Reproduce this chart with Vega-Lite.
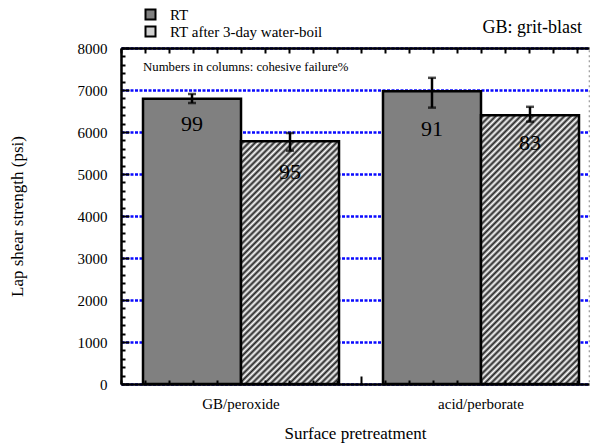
{
  "$schema": "https://vega.github.io/schema/vega-lite/v6.json",
  "width": 468,
  "height": 336,
  "autosize": {"type": "none"},
  "padding": {"left": 121, "top": 48, "right": 6, "bottom": 61},
  "config": {
    "font": "Liberation Serif",
    "mark": {"font": "Liberation Serif"},
    "text": {"font": "Liberation Serif"},
    "legend": {"labelFont": "Liberation Serif", "titleFont": "Liberation Serif"},
    "view": {"stroke": "#9a9a9a", "strokeDash": [2, 3], "strokeWidth": 1.2},
    "axis": {"labelColor": "black", "titleColor": "black", "titleFontWeight": "normal", "labelFont": "Liberation Serif", "titleFont": "Liberation Serif"}
  },
  "data": {
    "values": [
      {"treat": "GB/peroxide", "cond": "RT", "val": 6790, "lo": 6690, "hi": 6905, "cf": "99"},
      {"treat": "GB/peroxide", "cond": "RT after 3-day water-boil", "val": 5780, "lo": 5555, "hi": 5976, "cf": "95"},
      {"treat": "acid/perborate", "cond": "RT", "val": 6970, "lo": 6580, "hi": 7290, "cf": "91"},
      {"treat": "acid/perborate", "cond": "RT after 3-day water-boil", "val": 6400, "lo": 6245, "hi": 6600, "cf": "83"}
    ]
  },
  "layer": [
    {
      "layer": [
        {
          "transform": [{"filter": "datum.cond == 'RT'"}],
          "mark": {"type": "bar", "fill": "#808080", "stroke": "black", "strokeWidth": 2.5},
          "encoding": {
            "x": {"field": "treat", "type": "nominal", "sort": ["GB/peroxide", "acid/perborate"],
              "scale": {"domain": ["GB/peroxide", "acid/perborate"], "paddingInner": 0.1833, "paddingOuter": 0.0667, "align": 0.6875},
              "axis": {"orient": "bottom", "title": "Surface pretreatment", "labelAngle": 0, "labelFontSize": 15, "labelPadding": 12, "ticks": false, "domain": false, "titleFontSize": 17, "titlePadding": 14, "zindex": 1}},
            "xOffset": {"field": "cond", "type": "nominal", "scale": {"domain": ["RT", "RT after 3-day water-boil"], "paddingInner": 0, "paddingOuter": 0}},
            "y": {"field": "val", "type": "quantitative", "scale": {"domain": [0, 8000], "nice": false},
              "axis": {
                "values": [0,200,400,600,800,1000,1200,1400,1600,1800,2000,2200,2400,2600,2800,3000,3200,3400,3600,3800,4000,4200,4400,4600,4800,5000,5200,5400,5600,5800,6000,6200,6400,6600,6800,7000,7200,7400,7600,7800,8000],
                "tickCount": 60,
                "format": "d",
                "labelExpr": "datum.value % 1000 == 0 ? datum.label : ''",
                "labelFontSize": 15, "labelPadding": 22, "labelOverlap": false,
                "tickSize": {"condition": {"test": "datum.value % 1000 == 0", "value": -8}, "value": -4},
                "tickWidth": 2, "tickColor": "black",
                "domainColor": "black", "domainWidth": 2.5,
                "grid": true, "gridColor": "#0a0aff", "gridDash": [3, 1.5], "gridWidth": 2.6,
                "gridOpacity": {"condition": {"test": "datum.value % 1000 == 0", "value": 1}, "value": 0},
                "title": "Lap shear strength (psi)", "titleFontSize": 17, "titlePadding": 51
              }}
          }
        },
        {
          "transform": [{"filter": "datum.cond != 'RT' && datum.treat == 'GB/peroxide'"}],
          "mark": {"type": "bar", "stroke": "black", "strokeWidth": 2.5,
            "fill": {"gradient": "linear", "x1": 0, "y1": 0, "x2": 0.894, "y2": 2.215, "stops": [
              {"offset":0,"color":"#fff"},{"offset":0.005,"color":"#222"},{"offset":0.01,"color":"#fff"},{"offset":0.015,"color":"#222"},{"offset":0.02,"color":"#fff"},{"offset":0.025,"color":"#222"},{"offset":0.03,"color":"#fff"},{"offset":0.035,"color":"#222"},{"offset":0.04,"color":"#fff"},{"offset":0.045,"color":"#222"},
              {"offset":0.05,"color":"#fff"},{"offset":0.055,"color":"#222"},{"offset":0.06,"color":"#fff"},{"offset":0.065,"color":"#222"},{"offset":0.07,"color":"#fff"},{"offset":0.075,"color":"#222"},{"offset":0.08,"color":"#fff"},{"offset":0.085,"color":"#222"},{"offset":0.09,"color":"#fff"},{"offset":0.095,"color":"#222"},
              {"offset":0.1,"color":"#fff"},{"offset":0.105,"color":"#222"},{"offset":0.11,"color":"#fff"},{"offset":0.115,"color":"#222"},{"offset":0.12,"color":"#fff"},{"offset":0.125,"color":"#222"},{"offset":0.13,"color":"#fff"},{"offset":0.135,"color":"#222"},{"offset":0.14,"color":"#fff"},{"offset":0.145,"color":"#222"},
              {"offset":0.15,"color":"#fff"},{"offset":0.155,"color":"#222"},{"offset":0.16,"color":"#fff"},{"offset":0.165,"color":"#222"},{"offset":0.17,"color":"#fff"},{"offset":0.175,"color":"#222"},{"offset":0.18,"color":"#fff"},{"offset":0.185,"color":"#222"},{"offset":0.19,"color":"#fff"},{"offset":0.195,"color":"#222"},
              {"offset":0.2,"color":"#fff"},{"offset":0.205,"color":"#222"},{"offset":0.21,"color":"#fff"},{"offset":0.215,"color":"#222"},{"offset":0.22,"color":"#fff"},{"offset":0.225,"color":"#222"},{"offset":0.23,"color":"#fff"},{"offset":0.235,"color":"#222"},{"offset":0.24,"color":"#fff"},{"offset":0.245,"color":"#222"},
              {"offset":0.25,"color":"#fff"},{"offset":0.255,"color":"#222"},{"offset":0.26,"color":"#fff"},{"offset":0.265,"color":"#222"},{"offset":0.27,"color":"#fff"},{"offset":0.275,"color":"#222"},{"offset":0.28,"color":"#fff"},{"offset":0.285,"color":"#222"},{"offset":0.29,"color":"#fff"},{"offset":0.295,"color":"#222"},
              {"offset":0.3,"color":"#fff"},{"offset":0.305,"color":"#222"},{"offset":0.31,"color":"#fff"},{"offset":0.315,"color":"#222"},{"offset":0.32,"color":"#fff"},{"offset":0.325,"color":"#222"},{"offset":0.33,"color":"#fff"},{"offset":0.335,"color":"#222"},{"offset":0.34,"color":"#fff"},{"offset":0.345,"color":"#222"},
              {"offset":0.35,"color":"#fff"},{"offset":0.355,"color":"#222"},{"offset":0.36,"color":"#fff"},{"offset":0.365,"color":"#222"},{"offset":0.37,"color":"#fff"},{"offset":0.375,"color":"#222"},{"offset":0.38,"color":"#fff"},{"offset":0.385,"color":"#222"},{"offset":0.39,"color":"#fff"},{"offset":0.395,"color":"#222"},
              {"offset":0.4,"color":"#fff"},{"offset":0.405,"color":"#222"},{"offset":0.41,"color":"#fff"},{"offset":0.415,"color":"#222"},{"offset":0.42,"color":"#fff"},{"offset":0.425,"color":"#222"},{"offset":0.43,"color":"#fff"},{"offset":0.435,"color":"#222"},{"offset":0.44,"color":"#fff"},{"offset":0.445,"color":"#222"},
              {"offset":0.45,"color":"#fff"},{"offset":0.455,"color":"#222"},{"offset":0.46,"color":"#fff"},{"offset":0.465,"color":"#222"},{"offset":0.47,"color":"#fff"},{"offset":0.475,"color":"#222"},{"offset":0.48,"color":"#fff"},{"offset":0.485,"color":"#222"},{"offset":0.49,"color":"#fff"},{"offset":0.495,"color":"#222"},
              {"offset":0.5,"color":"#fff"},{"offset":0.505,"color":"#222"},{"offset":0.51,"color":"#fff"},{"offset":0.515,"color":"#222"},{"offset":0.52,"color":"#fff"},{"offset":0.525,"color":"#222"},{"offset":0.53,"color":"#fff"},{"offset":0.535,"color":"#222"},{"offset":0.54,"color":"#fff"},{"offset":0.545,"color":"#222"},
              {"offset":0.55,"color":"#fff"},{"offset":0.555,"color":"#222"},{"offset":0.56,"color":"#fff"},{"offset":0.565,"color":"#222"},{"offset":0.57,"color":"#fff"},{"offset":0.575,"color":"#222"},{"offset":0.58,"color":"#fff"},{"offset":0.585,"color":"#222"},{"offset":0.59,"color":"#fff"}
            ]}},
          "encoding": {
            "x": {"field": "treat", "type": "nominal"},
            "xOffset": {"field": "cond", "type": "nominal"},
            "y": {"field": "val", "type": "quantitative"}
          }
        },
        {
          "transform": [{"filter": "datum.cond != 'RT' && datum.treat == 'acid/perborate'"}],
          "mark": {"type": "bar", "stroke": "black", "strokeWidth": 2.5,
            "fill": {"gradient": "linear", "x1": 0, "y1": 0, "x2": 0.748, "y2": 2.052, "stops": [
              {"offset":0,"color":"#fff"},{"offset":0.005,"color":"#222"},{"offset":0.01,"color":"#fff"},{"offset":0.015,"color":"#222"},{"offset":0.02,"color":"#fff"},{"offset":0.025,"color":"#222"},{"offset":0.03,"color":"#fff"},{"offset":0.035,"color":"#222"},{"offset":0.04,"color":"#fff"},{"offset":0.045,"color":"#222"},
              {"offset":0.05,"color":"#fff"},{"offset":0.055,"color":"#222"},{"offset":0.06,"color":"#fff"},{"offset":0.065,"color":"#222"},{"offset":0.07,"color":"#fff"},{"offset":0.075,"color":"#222"},{"offset":0.08,"color":"#fff"},{"offset":0.085,"color":"#222"},{"offset":0.09,"color":"#fff"},{"offset":0.095,"color":"#222"},
              {"offset":0.1,"color":"#fff"},{"offset":0.105,"color":"#222"},{"offset":0.11,"color":"#fff"},{"offset":0.115,"color":"#222"},{"offset":0.12,"color":"#fff"},{"offset":0.125,"color":"#222"},{"offset":0.13,"color":"#fff"},{"offset":0.135,"color":"#222"},{"offset":0.14,"color":"#fff"},{"offset":0.145,"color":"#222"},
              {"offset":0.15,"color":"#fff"},{"offset":0.155,"color":"#222"},{"offset":0.16,"color":"#fff"},{"offset":0.165,"color":"#222"},{"offset":0.17,"color":"#fff"},{"offset":0.175,"color":"#222"},{"offset":0.18,"color":"#fff"},{"offset":0.185,"color":"#222"},{"offset":0.19,"color":"#fff"},{"offset":0.195,"color":"#222"},
              {"offset":0.2,"color":"#fff"},{"offset":0.205,"color":"#222"},{"offset":0.21,"color":"#fff"},{"offset":0.215,"color":"#222"},{"offset":0.22,"color":"#fff"},{"offset":0.225,"color":"#222"},{"offset":0.23,"color":"#fff"},{"offset":0.235,"color":"#222"},{"offset":0.24,"color":"#fff"},{"offset":0.245,"color":"#222"},
              {"offset":0.25,"color":"#fff"},{"offset":0.255,"color":"#222"},{"offset":0.26,"color":"#fff"},{"offset":0.265,"color":"#222"},{"offset":0.27,"color":"#fff"},{"offset":0.275,"color":"#222"},{"offset":0.28,"color":"#fff"},{"offset":0.285,"color":"#222"},{"offset":0.29,"color":"#fff"},{"offset":0.295,"color":"#222"},
              {"offset":0.3,"color":"#fff"},{"offset":0.305,"color":"#222"},{"offset":0.31,"color":"#fff"},{"offset":0.315,"color":"#222"},{"offset":0.32,"color":"#fff"},{"offset":0.325,"color":"#222"},{"offset":0.33,"color":"#fff"},{"offset":0.335,"color":"#222"},{"offset":0.34,"color":"#fff"},{"offset":0.345,"color":"#222"},
              {"offset":0.35,"color":"#fff"},{"offset":0.355,"color":"#222"},{"offset":0.36,"color":"#fff"},{"offset":0.365,"color":"#222"},{"offset":0.37,"color":"#fff"},{"offset":0.375,"color":"#222"},{"offset":0.38,"color":"#fff"},{"offset":0.385,"color":"#222"},{"offset":0.39,"color":"#fff"},{"offset":0.395,"color":"#222"},
              {"offset":0.4,"color":"#fff"},{"offset":0.405,"color":"#222"},{"offset":0.41,"color":"#fff"},{"offset":0.415,"color":"#222"},{"offset":0.42,"color":"#fff"},{"offset":0.425,"color":"#222"},{"offset":0.43,"color":"#fff"},{"offset":0.435,"color":"#222"},{"offset":0.44,"color":"#fff"},{"offset":0.445,"color":"#222"},
              {"offset":0.45,"color":"#fff"},{"offset":0.455,"color":"#222"},{"offset":0.46,"color":"#fff"},{"offset":0.465,"color":"#222"},{"offset":0.47,"color":"#fff"},{"offset":0.475,"color":"#222"},{"offset":0.48,"color":"#fff"},{"offset":0.485,"color":"#222"},{"offset":0.49,"color":"#fff"},{"offset":0.495,"color":"#222"},
              {"offset":0.5,"color":"#fff"},{"offset":0.505,"color":"#222"},{"offset":0.51,"color":"#fff"},{"offset":0.515,"color":"#222"},{"offset":0.52,"color":"#fff"},{"offset":0.525,"color":"#222"},{"offset":0.53,"color":"#fff"},{"offset":0.535,"color":"#222"},{"offset":0.54,"color":"#fff"},{"offset":0.545,"color":"#222"},
              {"offset":0.55,"color":"#fff"},{"offset":0.555,"color":"#222"},{"offset":0.56,"color":"#fff"},{"offset":0.565,"color":"#222"},{"offset":0.57,"color":"#fff"},{"offset":0.575,"color":"#222"},{"offset":0.58,"color":"#fff"},{"offset":0.585,"color":"#222"},{"offset":0.59,"color":"#fff"}
            ]}},
          "encoding": {
            "x": {"field": "treat", "type": "nominal"},
            "xOffset": {"field": "cond", "type": "nominal"},
            "y": {"field": "val", "type": "quantitative"}
          }
        },
        {
          "mark": {"type": "rule", "color": "black", "strokeWidth": 2.5},
          "encoding": {
            "x": {"field": "treat", "type": "nominal"},
            "xOffset": {"field": "cond", "type": "nominal"},
            "y": {"field": "lo", "type": "quantitative"},
            "y2": {"field": "hi"}
          }
        },
        {
          "mark": {"type": "tick", "color": "black", "size": 8, "thickness": 2.5},
          "encoding": {
            "x": {"field": "treat", "type": "nominal"},
            "xOffset": {"field": "cond", "type": "nominal"},
            "y": {"field": "lo", "type": "quantitative"}
          }
        },
        {
          "mark": {"type": "tick", "color": "black", "size": 8, "thickness": 2.5},
          "encoding": {
            "x": {"field": "treat", "type": "nominal"},
            "xOffset": {"field": "cond", "type": "nominal"},
            "y": {"field": "hi", "type": "quantitative"}
          }
        },
        {
          "mark": {"type": "text", "font": "Liberation Serif", "fontSize": 22, "baseline": "middle", "dy": 21, "color": "black"},
          "encoding": {
            "x": {"field": "treat", "type": "nominal"},
            "xOffset": {"field": "cond", "type": "nominal"},
            "y": {"field": "lo", "type": "quantitative"},
            "text": {"field": "cf"}
          }
        },
        {
          "data": {"values": [{"t": "Numbers in columns: cohesive failure%"}]},
          "mark": {"type": "text", "font": "Liberation Serif", "fontSize": 12.8, "align": "left", "baseline": "middle", "color": "black"},
          "encoding": {
            "x": {"datum": "GB/peroxide", "type": "nominal", "bandPosition": 0},
            "y": {"datum": 7550, "type": "quantitative"},
            "text": {"field": "t"}
          }
        },
        {
          "data": {"values": [{"t": "GB: grit-blast"}]},
          "mark": {"type": "text", "font": "Liberation Serif", "fontSize": 18, "align": "right", "baseline": "alphabetic", "dx": 3, "color": "black"},
          "encoding": {
            "x": {"datum": "acid/perborate", "type": "nominal", "bandPosition": 1},
            "y": {"datum": 8360, "type": "quantitative"},
            "text": {"field": "t"}
          }
        },
        {
          "mark": {"type": "point", "filled": true, "opacity": 0},
          "encoding": {
            "fill": {"field": "cond", "type": "nominal",
              "scale": {"domain": ["RT", "RT after 3-day water-boil"], "range": ["#808080", "#d0d0d0"]},
              "legend": {"orient": "none", "legendX": 22, "legendY": -41, "title": null, "symbolType": "square", "symbolSize": 100, "symbolStrokeColor": "black", "symbolStrokeWidth": 2, "symbolOpacity": 1, "labelFont": "Liberation Serif", "labelFontSize": 15, "labelColor": "black", "rowPadding": -2, "labelOffset": 12}}
          }
        }
      ]
    },
    {
      "mark": {"type": "rule", "opacity": 0},
      "encoding": {
        "x": {"datum": 0, "type": "quantitative", "scale": {"domain": [0, 19.5], "nice": false, "zero": false},
          "axis": {"orient": "top", "values": [0,1,2,3,4,5,6,7,8,9,10,11,12,13,14,15,16,17,18,19], "tickCount": 40, "labels": false, "title": null, "tickSize": -5, "tickWidth": 2, "tickColor": "black", "domainColor": "black", "domainWidth": 2.5, "grid": false, "zindex": 1}}
      }
    },
    {
      "mark": {"type": "rule", "opacity": 0},
      "encoding": {
        "x": {"datum": 0, "type": "quantitative", "scale": {"domain": [0, 19.5], "nice": false, "zero": false},
          "axis": {"orient": "bottom", "values": [0,1,2,3,4,5,6,7,8,9,10,11,12,13,14,15,16,17,18,19], "tickCount": 40, "labels": false, "title": null,
            "tickSize": {"condition": {"test": "datum.value == 10", "value": -8}, "value": -4},
            "tickWidth": 2, "tickColor": "black", "domainColor": "black", "domainWidth": 2.5, "grid": false, "zindex": 1}}
      }
    }
  ],
  "resolve": {"scale": {"x": "independent"}, "axis": {"x": "independent"}}
}
